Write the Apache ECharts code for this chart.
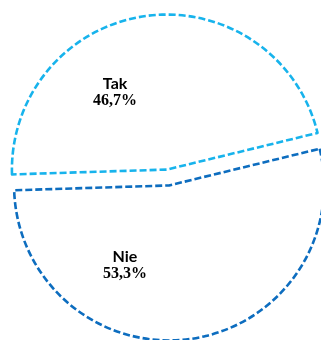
<!DOCTYPE html>
<html>
<head>
<meta charset="utf-8">
<script src="https://cdn.jsdelivr.net/npm/echarts@6/dist/echarts.min.js"></script>
<style>
html,body{margin:0;padding:0;background:#fff;}
#chart{width:321px;height:340px;}
</style>
</head>
<body>
<div id="chart"></div>
<script>
// Data
const categories = ['Tak', 'Nie'];
const values = [46.7, 53.3];

// Styles (not data)
const borderColors = ['#17b3ec', '#0d6dbf'];
const labelShift = [[-41, 3], [-55, 0]];

const chart = echarts.init(document.getElementById('chart'), null, {renderer: 'canvas'});
chart.setOption({
  animation: false,
  backgroundColor: '#ffffff',
  series: [{
    type: 'pie',
    center: [168, 177.5],
    radius: 155,
    startAngle: 181.8,
    clockwise: true,
    selectedMode: 'multiple',
    selectedOffset: 8,
    avoidLabelOverlap: false,
    emphasis: {disabled: true},
    label: {
      show: true,
      position: 'inside',
      formatter: function (p) {
        return '{a|' + p.name + '}\n{b|' + p.value.toFixed(1).replace('.', ',') + '%}';
      },
      rich: {
        a: {fontFamily: 'Lato', fontWeight: 'bold', fontSize: 16, color: '#000', lineHeight: 17, align: 'center'},
        b: {fontFamily: 'Liberation Serif', fontWeight: 'bold', fontSize: 16, color: '#000', lineHeight: 17, align: 'center'}
      }
    },
    labelLine: {show: false},
    labelLayout: function (params) {
      const s = labelShift[params.dataIndex];
      return {dx: s[0], dy: s[1]};
    },
    data: categories.map(function (c, i) {
      const st = {color: '#ffffff', borderColor: borderColors[i], borderWidth: 2.6, borderType: [7, 3]};
      return {
        name: c,
        value: values[i],
        selected: true,
        itemStyle: st,
        select: {itemStyle: st}
      };
    })
  }]
});
</script>
</body>
</html>
